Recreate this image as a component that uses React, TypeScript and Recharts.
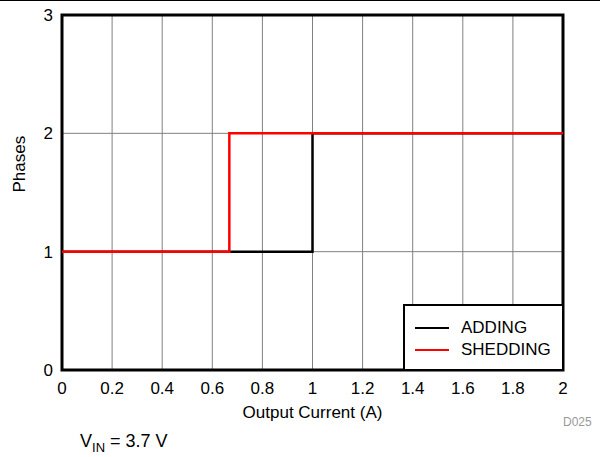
import React from 'react';
import {
  LineChart,
  Line,
  XAxis,
  YAxis,
  CartesianGrid,
  ReferenceArea,
} from 'recharts';

const adding = [
  { x: 0, phases: 1 },
  { x: 1, phases: 2 },
  { x: 2, phases: 2 },
];

const shedding = [
  { x: 0, phases: 1 },
  { x: 0.668, phases: 2 },
  { x: 2, phases: 2 },
];

const xTicks = [0, 0.2, 0.4, 0.6, 0.8, 1, 1.2, 1.4, 1.6, 1.8, 2];
const yTicks = [0, 1, 2, 3];

const font = 'Arial, "Liberation Sans", Helvetica, sans-serif';

const legendItems = [
  { name: 'ADDING', color: '#000000' },
  { name: 'SHEDDING', color: '#ff0000' },
];

function LegendBox() {
  return (
    <div
      style={{
        position: 'absolute',
        left: 403,
        top: 304,
        border: '2px solid #000',
        background: '#fff',
        boxSizing: 'border-box',
        width: 161,
        height: 67,
        padding: '11px 0 0 10px',
        fontFamily: font,
        fontSize: 17,
        color: '#000',
      }}
    >
      {legendItems.map((it) => (
        <div key={it.name} style={{ display: 'flex', alignItems: 'center', height: 22 }}>
          <span
            style={{ display: 'inline-block', width: 34, height: 2, background: it.color, marginRight: 12 }}
          />
          <span>{it.name}</span>
        </div>
      ))}
    </div>
  );
}

export default function App() {
  return (
    <div style={{ position: 'relative', width: 600, height: 457, background: '#fff', fontFamily: font }}>
      <style>{'body{margin:0}'}</style>
      <div style={{ position: 'absolute', left: 0, top: 0, width: 600, height: 1, background: '#000' }} />
      <LineChart width={600} height={457} margin={{ top: 15, right: 37, left: 0, bottom: 57 }}>
        <CartesianGrid stroke="#808080" strokeWidth={1} />
        <XAxis
          type="number"
          dataKey="x"
          domain={[0, 2]}
          ticks={xTicks}
          interval={0}
          tickSize={0}
          tickMargin={12}
          height={30}
          axisLine={false}
          tick={{ fill: '#000', fontSize: 17, fontFamily: font }}
          label={{ value: 'Output Current (A)', position: 'insideBottom', offset: -18, fill: '#000', fontSize: 17, fontFamily: font }}
        />
        <YAxis
          type="number"
          domain={[0, 3]}
          ticks={yTicks}
          interval={0}
          tickSize={0}
          tickMargin={9}
          width={62}
          axisLine={false}
          tick={{ fill: '#000', fontSize: 17, fontFamily: font }}
          label={{ value: 'Phases', angle: -90, position: 'insideLeft', offset: 19, fill: '#000', fontSize: 17, fontFamily: font }}
        />
        <Line
          data={adding}
          dataKey="phases"
          name="ADDING"
          type="stepAfter"
          stroke="#000000"
          strokeWidth={2.5}
          dot={false}
          isAnimationActive={false}
        />
        <Line
          data={shedding}
          dataKey="phases"
          name="SHEDDING"
          type="stepAfter"
          stroke="#ff0000"
          strokeWidth={2.5}
          dot={false}
          isAnimationActive={false}
        />
        <ReferenceArea x1={0} x2={2} y1={0} y2={3} fill="none" stroke="#000" strokeWidth={3} ifOverflow="visible" />
      </LineChart>
      <LegendBox />
      <div style={{ position: 'absolute', left: 563, top: 415, fontSize: 12, color: '#999' }}>D025</div>
      <div style={{ position: 'absolute', left: 80, top: 431, fontSize: 18, color: '#000' }}>
        V<sub style={{ fontSize: 13 }}>IN</sub> = 3.7 V
      </div>
    </div>
  );
}
